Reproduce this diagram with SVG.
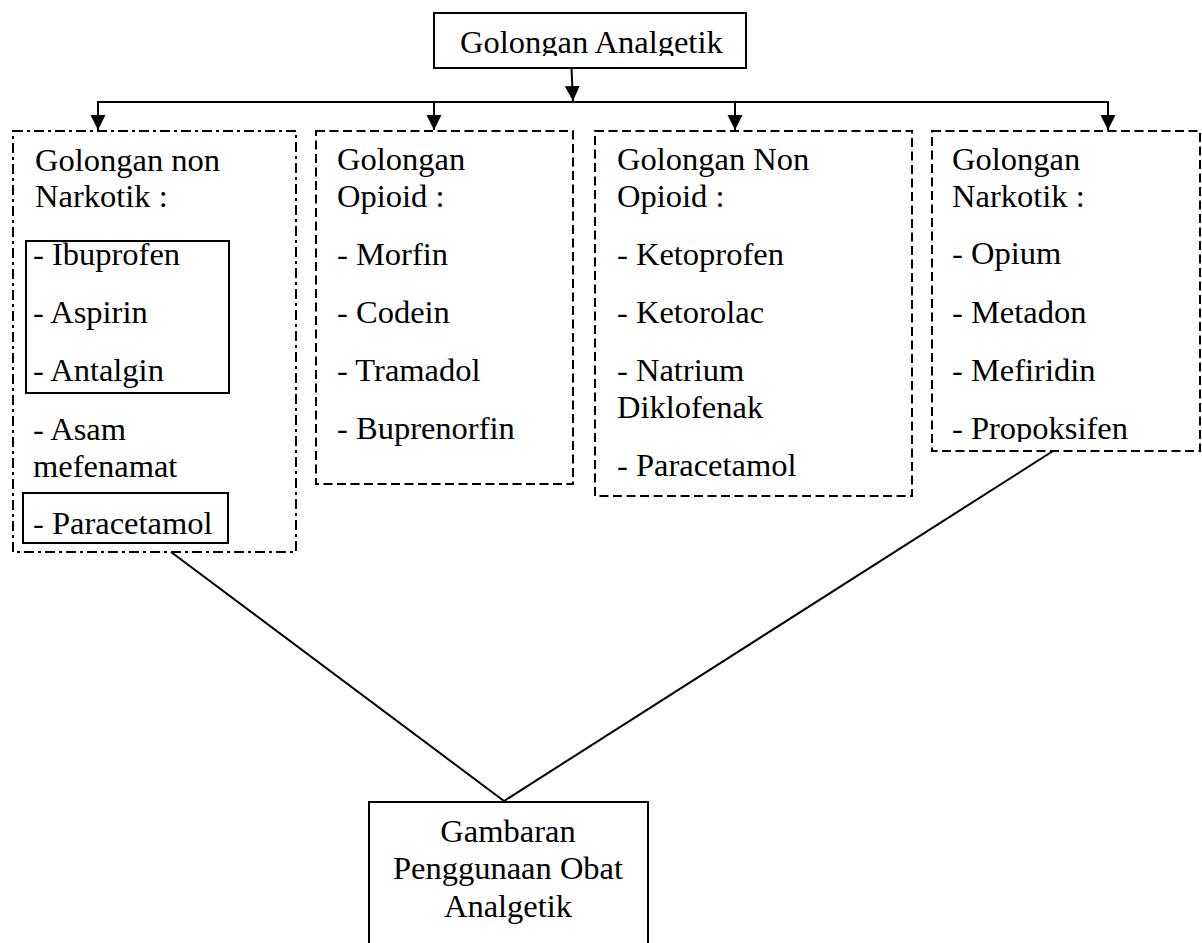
<svg xmlns="http://www.w3.org/2000/svg" width="1202" height="943" viewBox="0 0 1202 943">
<style>
text{font-family:"Liberation Serif","Times New Roman",serif;font-size:32.5px;fill:#000}
.solid{fill:none;stroke:#000;stroke-width:2}
.dash{fill:none;stroke:#000;stroke-width:2;stroke-dasharray:9 4.5}
.dashdot{fill:none;stroke:#000;stroke-width:2;stroke-dasharray:10 4 3 4}
.conn{fill:none;stroke:#000;stroke-width:2}
.mid{text-anchor:middle}
</style>
<defs>
<marker id="arr" markerUnits="userSpaceOnUse" markerWidth="16" markerHeight="16" refX="15" refY="7.5" orient="auto">
<path d="M0,0 L15,7.5 L0,15 Z" fill="#000"/>
</marker>
<clipPath id="clipTop"><rect x="434" y="13" width="312" height="43"/></clipPath>
<clipPath id="clipNark"><rect x="931" y="131" width="270" height="311"/></clipPath>
</defs>
<rect width="1202" height="943" fill="#fff"/>

<g id="connectors">
<line class="conn" x1="571.5" y1="68" x2="573" y2="101" marker-end="url(#arr)"/>
<line class="conn" x1="97" y1="102" x2="1109" y2="102"/>
<line class="conn" x1="98" y1="102" x2="98" y2="130" marker-end="url(#arr)"/>
<line class="conn" x1="434" y1="102" x2="434" y2="130" marker-end="url(#arr)"/>
<line class="conn" x1="735" y1="102" x2="735" y2="130" marker-end="url(#arr)"/>
<line class="conn" x1="1108" y1="102" x2="1108" y2="130" marker-end="url(#arr)"/>
<line class="conn" x1="171" y1="552" x2="504" y2="801"/>
<line class="conn" x1="1053" y1="451" x2="504" y2="801"/>
</g>

<g id="node-analgetik">
<rect class="solid" x="434" y="13" width="312" height="55"/>
<text x="460" y="53" clip-path="url(#clipTop)">Golongan Analgetik</text>
</g>

<g id="node-non-narkotik">
<rect class="dashdot" x="13" y="131" width="283" height="421"/>
<rect class="solid" x="26" y="241" width="203" height="152"/>
<rect class="solid" x="23" y="493" width="205" height="50"/>
<text x="35" y="171">Golongan non</text>
<text x="35" y="207">Narkotik :</text>
<text x="33" y="265">- Ibuprofen</text>
<text x="33" y="323">- Aspirin</text>
<text x="33" y="381">- Antalgin</text>
<text x="33" y="440">- Asam</text>
<text x="33" y="477">mefenamat</text>
<text x="33" y="534">- Paracetamol</text>
</g>

<g id="node-opioid">
<rect class="dash" x="316" y="131" width="257" height="353"/>
<text x="337" y="170">Golongan</text>
<text x="337" y="207">Opioid :</text>
<text x="337" y="265">- Morfin</text>
<text x="337" y="323">- Codein</text>
<text x="337" y="381">- Tramadol</text>
<text x="337" y="439">- Buprenorfin</text>
</g>

<g id="node-non-opioid">
<rect class="dash" x="595" y="131" width="317" height="365"/>
<text x="617" y="170">Golongan Non</text>
<text x="617" y="207">Opioid :</text>
<text x="617" y="265">- Ketoprofen</text>
<text x="617" y="323">- Ketorolac</text>
<text x="617" y="381">- Natrium</text>
<text x="617" y="418">Diklofenak</text>
<text x="617" y="476">- Paracetamol</text>
</g>

<g id="node-narkotik">
<rect class="dash" x="932" y="131" width="268" height="320"/>
<g clip-path="url(#clipNark)">
<text x="952" y="170">Golongan</text>
<text x="952" y="207">Narkotik :</text>
<text x="952" y="264">- Opium</text>
<text x="952" y="323">- Metadon</text>
<text x="952" y="381">- Mefiridin</text>
<text x="952" y="439">- Propoksifen</text>
</g>
</g>

<g id="node-gambaran">
<rect class="solid" x="369" y="802" width="279" height="160"/>
<text class="mid" x="508" y="842">Gambaran</text>
<text class="mid" x="508" y="879">Penggunaan Obat</text>
<text class="mid" x="508" y="917">Analgetik</text>
</g>
</svg>
